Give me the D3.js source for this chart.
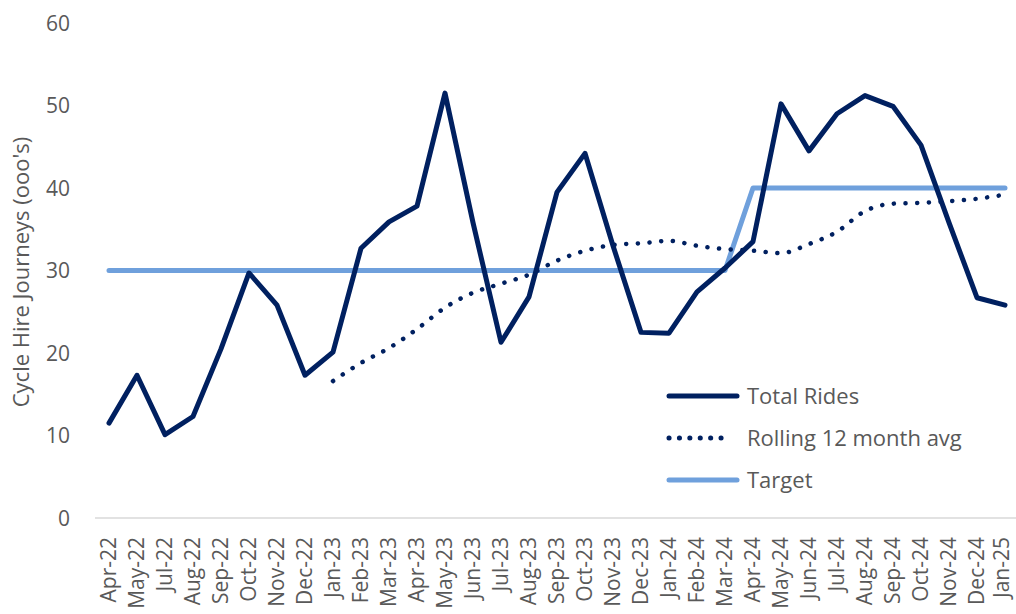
<!DOCTYPE html>
<html>
<head>
<meta charset="utf-8">
<script src="https://cdn.jsdelivr.net/npm/d3@7"></script>
<style>
  body { margin: 0; background: #fff; }
  text { font-family: "Open Sans", "Noto Sans", sans-serif; fill: #595959; }
</style>
</head>
<body>
<svg width="1016" height="614"></svg>
<script>
// months on the axis (no Jun-22 in the source)
const months = ["Apr-22","May-22","Jul-22","Aug-22","Sep-22","Oct-22","Nov-22","Dec-22",
  "Jan-23","Feb-23","Mar-23","Apr-23","May-23","Jun-23","Jul-23","Aug-23","Sep-23","Oct-23","Nov-23","Dec-23",
  "Jan-24","Feb-24","Mar-24","Apr-24","May-24","Jun-24","Jul-24","Aug-24","Sep-24","Oct-24","Nov-24","Dec-24",
  "Jan-25"];

const totalRides = [11.5, 17.3, 10.1, 12.3, 20.5, 29.7, 25.8, 17.3,
  20.1, 32.7, 35.9, 37.8, 51.5, 35.8, 21.3, 26.8, 39.5, 44.2, 33.0, 22.5,
  22.4, 27.4, 30.3, 33.5, 50.2, 44.5, 49.0, 51.2, 49.9, 45.2, 35.8, 26.7,
  25.8];

// rolling average only starts in Jan-23
const rollingAvg = [null, null, null, null, null, null, null, null,
  16.6, 18.8, 20.6, 22.9, 25.5, 27.3, 28.4, 29.5, 31.2, 32.4, 33.1, 33.3,
  33.6, 33.0, 32.6, 32.4, 32.1, 33.2, 34.7, 37.2, 38.1, 38.2, 38.4, 38.7,
  39.2];

const target = months.map((m, i) => i < 23 ? 30 : 40);

const yTicks = [0, 10, 20, 30, 40, 50, 60];

const svg = d3.select("svg");
const margin = {left: 95, right: 1019, top: 23, bottom: 518};

const x = d3.scalePoint().domain(months).range([margin.left, margin.right]).padding(0.5);
const y = d3.scaleLinear().domain([0, 60]).range([margin.bottom, margin.top]);

// y axis labels
svg.append("g").selectAll("text").data(yTicks).join("text")
  .attr("x", 70)
  .attr("y", d => y(d))
  .attr("dy", "0.36em")
  .attr("text-anchor", "end")
  .style("font-size", "21px")
  .text(d => d);

svg.append("text")
  .attr("transform", "translate(29,272) rotate(-90)")
  .attr("text-anchor", "middle")
  .style("font-size", "22px")
  .text("Cycle Hire Journeys (ooo's)");

// x axis line
svg.append("line")
  .attr("x1", 95).attr("x2", 1016)
  .attr("y1", y(0)).attr("y2", y(0))
  .attr("stroke", "#d9d9d9").attr("stroke-width", 1.5);

// keep the last label inside the page
svg.append("g").selectAll("text").data(months).join("text")
  .attr("transform", d => `translate(${Math.min(x(d) + 7, 1009)},537) rotate(-90)`)
  .attr("text-anchor", "end")
  .style("font-size", "21px")
  .text(d => d);

const line = d3.line()
  .defined(d => d[1] != null)
  .x(d => x(d[0]))
  .y(d => y(d[1]));

svg.append("path")
  .datum(months.map((m, i) => [m, target[i]]))
  .attr("d", line)
  .attr("fill", "none")
  .attr("stroke", "#6fa0dc")
  .attr("stroke-width", 5)
  .attr("stroke-linecap", "round")
  .attr("stroke-linejoin", "round");

svg.append("path")
  .datum(months.map((m, i) => [m, rollingAvg[i]]))
  .attr("d", line.curve(d3.curveMonotoneX))
  .attr("fill", "none")
  .attr("stroke", "#002060")
  .attr("stroke-width", 4.5)
  .attr("stroke-linecap", "round")
  .attr("stroke-dasharray", "0.1 11.6");

svg.append("path")
  .datum(months.map((m, i) => [m, totalRides[i]]))
  .attr("d", line.curve(d3.curveLinear))
  .attr("fill", "none")
  .attr("stroke", "#002060")
  .attr("stroke-width", 5)
  .attr("stroke-linecap", "round")
  .attr("stroke-linejoin", "round");

// legend
const legend = [
  {name: "Total Rides", color: "#002060", dash: null},
  {name: "Rolling 12 month avg", color: "#002060", dash: "0.1 10.3"},
  {name: "Target", color: "#6fa0dc", dash: null}
];

const lg = svg.append("g").selectAll("g").data(legend).join("g")
  .attr("transform", (d, i) => `translate(669,${396 + i * 42})`);

lg.append("line")
  .attr("x1", 0).attr("x2", d => d.dash ? 62 : 68)
  .attr("stroke", d => d.color)
  .attr("stroke-width", 5)
  .attr("stroke-linecap", "round")
  .attr("stroke-dasharray", d => d.dash);

lg.append("text")
  .attr("x", 78)
  .attr("dy", "0.36em")
  .style("font-size", "22px")
  .text(d => d.name);
</script>
</body>
</html>
